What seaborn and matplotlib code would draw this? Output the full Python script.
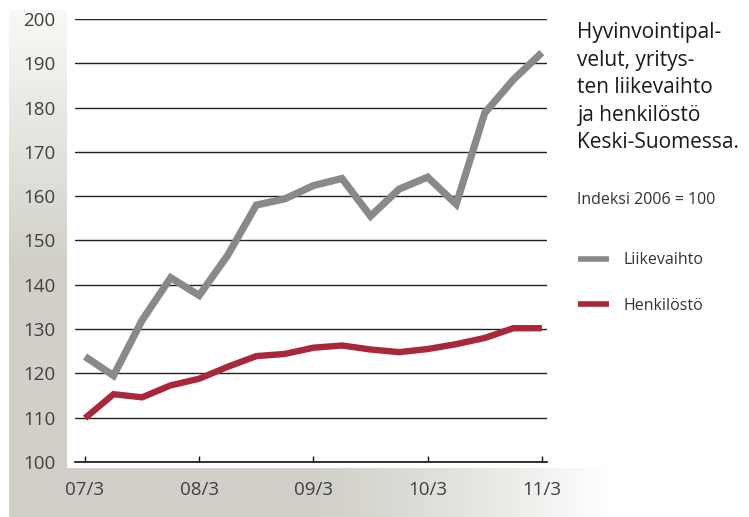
import numpy as np
import pandas as pd
import matplotlib
matplotlib.use('Agg')
import matplotlib.pyplot as plt
import seaborn as sns

# Data: quarterly index values, 2007/3 .. 2011/3 (2006 = 100)
quarters = list(range(17))
tick_pos = [0, 4, 8, 12, 16]
tick_labels = ['07/3', '08/3', '09/3', '10/3', '11/3']
liikevaihto = [123.8, 119.5, 132.0, 141.6, 137.6, 146.7, 158.0, 159.4, 162.4,
               164.0, 155.5, 161.6, 164.3, 158.2, 178.8, 186.3, 192.4]
henkilosto = [109.9, 115.3, 114.6, 117.3, 118.8, 121.5, 123.9, 124.4, 125.8,
              126.3, 125.4, 124.8, 125.5, 126.6, 128.0, 130.2, 130.2]

df = pd.DataFrame({'q': quarters, 'Liikevaihto': liikevaihto, 'Henkilöstö': henkilosto})

sns.set_theme(style='white')
plt.rcParams['font.family'] = ['Open Sans', 'DejaVu Sans']

W, H = 749, 517
fig = plt.figure(figsize=(W / 100, H / 100), dpi=100)
fig.patch.set_facecolor('white')

# background panels (grey gradients)
bg = fig.add_axes([0, 0, 1, 1], zorder=0)
bg.set_xlim(0, W)
bg.set_ylim(H, 0)
bg.axis('off')
light = np.array([0.975, 0.975, 0.965])
dark = np.array([0.82, 0.815, 0.785])
v = np.linspace(0, 1, 256)[:, None]
vgrad = np.clip(v * 1.8, 0, 1)
img_v = light + (dark - light) * vgrad[:, :, None]
bg.imshow(img_v, extent=[9, 67, 468, 10], aspect='auto', interpolation='bilinear')
h = np.linspace(0, 1, 256)[None, :]
hgrad = np.clip((h - 0.5) / 0.5, 0, 1)
white = np.array([1.0, 1.0, 1.0])
img_h = dark + (white - dark) * hgrad[:, :, None] ** 1.3
bg.imshow(img_h, extent=[9, 610, 517, 468], aspect='auto', interpolation='bilinear')

ax = fig.add_axes([75 / W, 1 - 462 / H, 472 / W, 443 / H], zorder=1)
ax.set_facecolor('none')

sns.lineplot(data=df, x='q', y='Liikevaihto', ax=ax, color='#88898b', lw=5.2,
             label='Liikevaihto', solid_joinstyle='miter', solid_capstyle='butt')
sns.lineplot(data=df, x='q', y='Henkilöstö', ax=ax, color='#a8283a', lw=4.6,
             label='Henkilöstö', solid_joinstyle='miter', solid_capstyle='butt')

ax.set_xlim(-0.35, 16.18)
ax.set_ylim(100, 200)
ax.set_yticks(range(100, 201, 10))
ax.set_xticks(tick_pos)
ax.set_xticklabels(tick_labels)
ax.set_xlabel('')
ax.set_ylabel('')
ax.yaxis.grid(True, color='#222222', lw=1.0)
ax.set_axisbelow(True)
for s in ['top', 'right', 'left']:
    ax.spines[s].set_visible(False)
ax.spines['bottom'].set_color('#111111')
ax.spines['bottom'].set_linewidth(1.2)
ax.tick_params(axis='y', length=0, pad=14, labelsize=13.5, labelcolor='#404040')
ax.tick_params(axis='x', direction='in', length=4, width=1, color='#111111',
               pad=14, labelsize=13.5, labelcolor='#404040', bottom=True)

leg = ax.legend(loc='upper left', bbox_to_anchor=(564 / W, 1 - 238 / H),
                bbox_transform=fig.transFigure, frameon=False, fontsize=11.5,
                handlelength=1.9, handletextpad=0.9, labelspacing=1.85)
for t in leg.get_texts():
    t.set_color('#333333')
for ln in leg.get_lines():
    ln.set_linewidth(4.0)

fig.text(577 / W, 1 - 22 / H,
         'Hyvinvointipal-\nvelut, yritys-\nten liikevaihto\nja henkilöstö\nKeski-Suomessa.',
         ha='left', va='top', fontsize=15, color='#1a1a1a', linespacing=1.41)
fig.text(577 / W, 1 - 200 / H, 'Indeksi 2006 = 100', ha='left', va='center',
         fontsize=11.5, color='#333333')

fig.savefig('out.png', dpi=100)
